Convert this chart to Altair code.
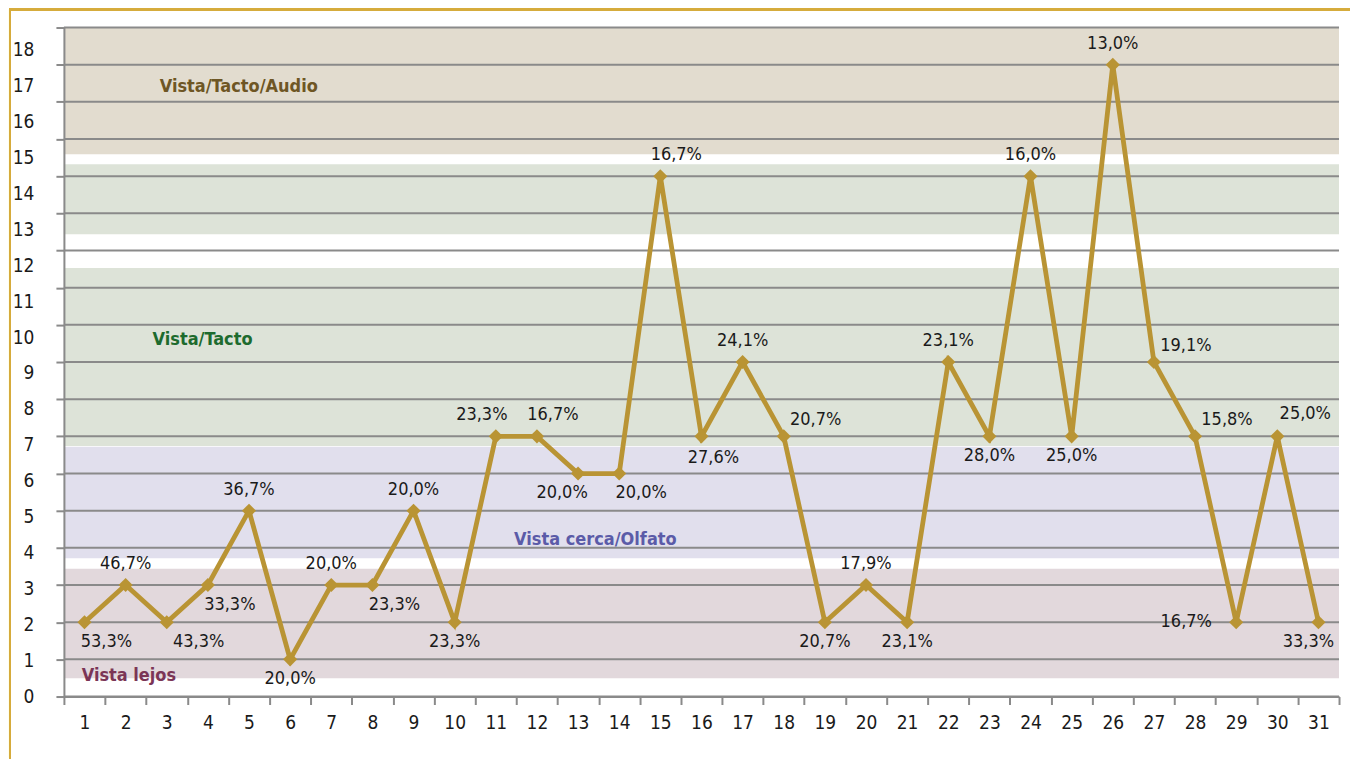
import altair as alt
import pandas as pd

# ---------------- data ----------------
days = list(range(1, 32))
values = [2, 3, 2, 3, 5, 1, 3, 3, 5, 2, 7, 7, 6, 6, 14, 7, 9, 7, 2, 3, 2, 9, 7, 14, 7, 17, 9, 7, 2, 7, 2]
pct_labels = ["53,3%", "46,7%", "43,3%", "33,3%", "36,7%", "20,0%", "20,0%", "23,3%", "20,0%", "23,3%",
              "23,3%", "16,7%", "20,0%", "20,0%", "16,7%", "27,6%", "24,1%", "20,7%", "20,7%", "17,9%",
              "23,1%", "23,1%", "28,0%", "16,0%", "25,0%", "13,0%", "19,1%", "15,8%", "16,7%", "25,0%",
              "33,3%"]
label_place = ["br", "a", "br2", "br", "a", "b", "a", "br", "a", "b", "al", "ar2", "bl", "br", "ar2", "br3",
               "a", "ar", "b", "a", "b", "a", "b", "a", "b", "a", "ar", "ar", "l", "ar3", "bl2"]
y_ticks = list(range(0, 19))
x_tick_values = [k / 2 for k in range(1, 64)]

band_names = ["Vista lejos", "Vista cerca/Olfato", "Vista/Tacto", "Vista/Tacto", "Vista/Tacto/Audio"]
band_low = [0.49, 3.72, 6.74, 12.44, 14.59]
band_high = [3.44, 6.72, 11.53, 14.32, 18.0]

zone_names = ["Vista/Tacto/Audio", "Vista/Tacto", "Vista cerca/Olfato", "Vista lejos"]
zone_x = [4.75, 3.87, 13.42, 2.08]
zone_y = [16.39, 9.59, 4.22, 0.54]

# ---------------- styles ----------------
band_fill = {"Vista lejos": "#e2d8dc", "Vista cerca/Olfato": "#e1dfed",
             "Vista/Tacto": "#dde3d8", "Vista/Tacto/Audio": "#e2dccf"}
zone_color = {"Vista/Tacto/Audio": "#6e5624", "Vista/Tacto": "#1d6b2e",
              "Vista cerca/Olfato": "#5b5ba8", "Vista lejos": "#7b3556"}
place_offset = {"a": (0, -21), "b": (0, 20), "br": (22, 20), "br2": (32, 20), "br3": (12, 22),
                "bl": (-16, 20), "bl2": (-10, 20), "al": (-14, -21), "ar2": (16, -21),
                "ar": (32, -16), "ar3": (28, -22), "l": (-50, 0)}

GOLD = "#b99434"
GRID = "#8a8a8a"
FRAME = "#d6ab3c"
FONT = "DejaVu Sans Condensed, sans-serif"
W, H = 1277, 670

# ---------------- tables ----------------
df = pd.DataFrame({"day": days, "value": values, "label": pct_labels, "place": label_place})
bands = pd.DataFrame({"name": band_names, "lo": band_low, "hi": band_high,
                      "x1": [0.5] * len(band_names), "x2": [31.5] * len(band_names)})
bands["fill"] = bands["name"].map(band_fill)
zones = pd.DataFrame({"name": zone_names, "x": zone_x, "y": zone_y})
zones["color"] = zones["name"].map(zone_color)
ticks_df = pd.DataFrame({"v": y_ticks})

x_scale = alt.Scale(domain=[0.5, 31.5], nice=False, zero=False)
y_scale = alt.Scale(domain=[0, 18], nice=False, zero=True)

x_axis = alt.Axis(
    values=x_tick_values, title=None, grid=False, zindex=1,
    labelExpr="datum.value % 1 === 0 ? format(datum.value, 'd') : ''",
    tickOpacity={"condition": {"test": "datum.value % 1 === 0", "value": 0}, "value": 1},
    tickSize=8, tickWidth=2, tickColor=GRID, domainColor=GRID, domainWidth=2,
    labelFont=FONT, labelFontSize=19, labelColor="#1a1a1a", labelPadding=9,
    labelOverlap=False, labelFlush=False,
)
y_axis = alt.Axis(
    values=y_ticks, title=None, grid=False, labels=False, zindex=1,
    tickSize=8, tickWidth=2, tickColor=GRID, domainColor=GRID, domainWidth=2,
)


def X(field):
    return alt.X(field, scale=x_scale, axis=x_axis)


def Y(field):
    return alt.Y(field, scale=y_scale, axis=y_axis)


band_layer = alt.Chart(bands).mark_rect().encode(
    x=X("x1:Q"), x2="x2:Q", y=Y("lo:Q"), y2="hi:Q",
    color=alt.Color("fill:N", scale=None),
)

grid_layer = alt.Chart(ticks_df).mark_rule(color=GRID, strokeWidth=2).encode(y=Y("v:Q"))

line_layer = alt.Chart(df).mark_line(color=GOLD, strokeWidth=4.8).encode(x=X("day:Q"), y=Y("value:Q"))
point_layer = alt.Chart(df).mark_point(shape="diamond", filled=True, size=200, color=GOLD, opacity=1).encode(
    x=X("day:Q"), y=Y("value:Q")
)

label_layers = []
for code, (dx, dy) in place_offset.items():
    label_layers.append(
        alt.Chart(df).transform_filter(alt.datum.place == code).mark_text(
            font=FONT, fontSize=18, color="#1a1a1a", dx=dx, dy=dy,
            align="center", baseline="middle",
        ).encode(x=X("day:Q"), y=Y("value:Q"), text="label:N")
    )

zone_layer = alt.Chart(zones).mark_text(
    font=FONT, fontSize=18, fontWeight="bold", align="center", baseline="middle"
).encode(
    x=X("x:Q"), y=Y("y:Q"), text="name:N",
    color=alt.Color("color:N", scale=None),
)

frame_top = alt.Chart(ticks_df).mark_rule(color=FRAME, strokeWidth=2).encode(
    x=alt.value(-55), x2=alt.value(W + 11), y=alt.value(-18)
)
frame_left = alt.Chart(ticks_df).mark_rule(color=FRAME, strokeWidth=2).encode(
    x=alt.value(-54), y=alt.value(-18), y2=alt.value(H + 62)
)

main = alt.layer(band_layer, grid_layer, line_layer, point_layer, *label_layers,
                 zone_layer, frame_top, frame_left)

# tick labels of the value axis (printed on their own, slightly tighter spacing)
label_axis_layer = alt.Chart(ticks_df).mark_point(opacity=0).encode(
    y=alt.Y("v:Q", scale=alt.Scale(domain=[0, 18.61], nice=False, zero=True),
            axis=alt.Axis(orient="left", values=y_ticks, title=None, ticks=False, domain=False,
                          grid=False, labelFont=FONT, labelFontSize=19, labelColor="#1a1a1a",
                          labelPadding=30, labelBaseline="middle")),
)

chart = alt.layer(main, label_axis_layer).resolve_scale(y="independent").properties(
    width=W, height=H, padding=0
).configure_view(stroke=None)

chart.save("out.html", embed_options={"renderer": "svg", "actions": False})
